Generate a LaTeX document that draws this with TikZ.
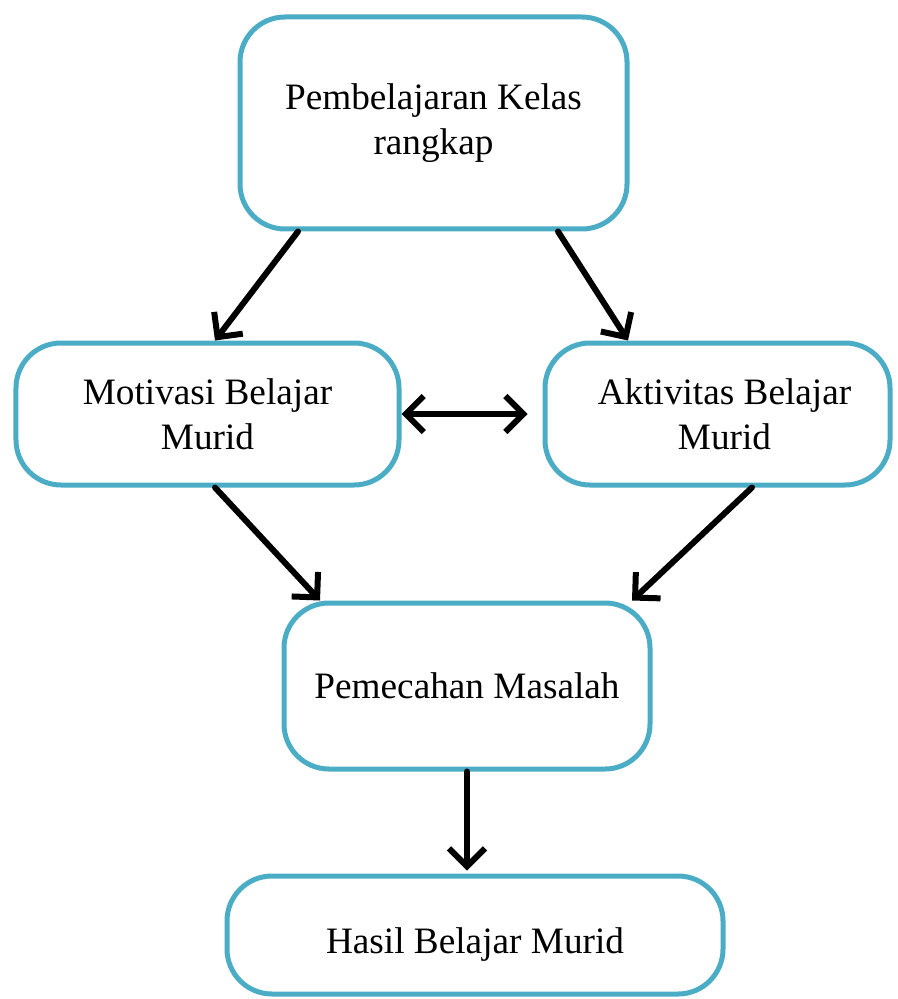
\documentclass[tikz,border=0pt]{standalone}
\usepackage{fontspec}
\setmainfont{Liberation Serif}
\usetikzlibrary{arrows.meta}
\definecolor{aqua}{RGB}{75,172,198}

\begin{document}
\begin{tikzpicture}[>={Straight Barb[length=1.8mm, width=3.6mm]},
    box/.style={draw=aqua, line width=0.05cm, rounded corners=0.45cm,
                align=center, inner sep=2pt,
                font=\fontsize{10.6}{12.7}\selectfont},
    link/.style={line width=0.06cm, line cap=round}
  ]
  \useasboundingbox (0,0) rectangle (8.97,-9.99);

  % Nodes
  \node[box, minimum width=3.87cm, minimum height=2.12cm] (kelas) at (4.335,-1.23)
    {Pembelajaran Kelas\\rangkap};
  \node[box, minimum width=3.83cm, minimum height=1.42cm] (motiv) at (2.075,-4.14)
    {Motivasi Belajar\\Murid};
  \node[box, minimum width=3.45cm, minimum height=1.42cm] (aktiv) at (7.175,-4.14)
    {\hspace*{0.14cm}Aktivitas Belajar\\\hspace*{0.14cm}Murid};
  \node[box, minimum width=3.66cm, minimum height=1.66cm] (masalah) at (4.67,-6.86)
    {Pemecahan Masalah};
  \node[box, minimum width=4.96cm, minimum height=1.18cm, text height=13pt] (hasil) at (4.75,-9.35)
    {Hasil Belajar Murid};

  % top -> middle row
  \draw[link, ->] ([xshift=-1.355cm]kelas.south) -- ([xshift=0.075cm]motiv.north);
  \draw[link, ->] ([xshift=1.245cm]kelas.south) -- ([xshift=-0.895cm]aktiv.north);

  % motivasi <-> aktivitas
  \draw[link, <->] (motiv.east) -- ([xshift=-0.15cm]aktiv.west);

  % middle row -> pemecahan
  \draw[link, ->] ([xshift=0.075cm]motiv.south) -- ([xshift=-1.47cm]masalah.north);
  \draw[link, ->] ([xshift=0.345cm]aktiv.south) -- ([xshift=1.65cm]masalah.north);

  % pemecahan -> hasil
  \draw[link, ->] (masalah.south) -- ([yshift=0.03cm]masalah.south |- hasil.north);
\end{tikzpicture}
\end{document}
